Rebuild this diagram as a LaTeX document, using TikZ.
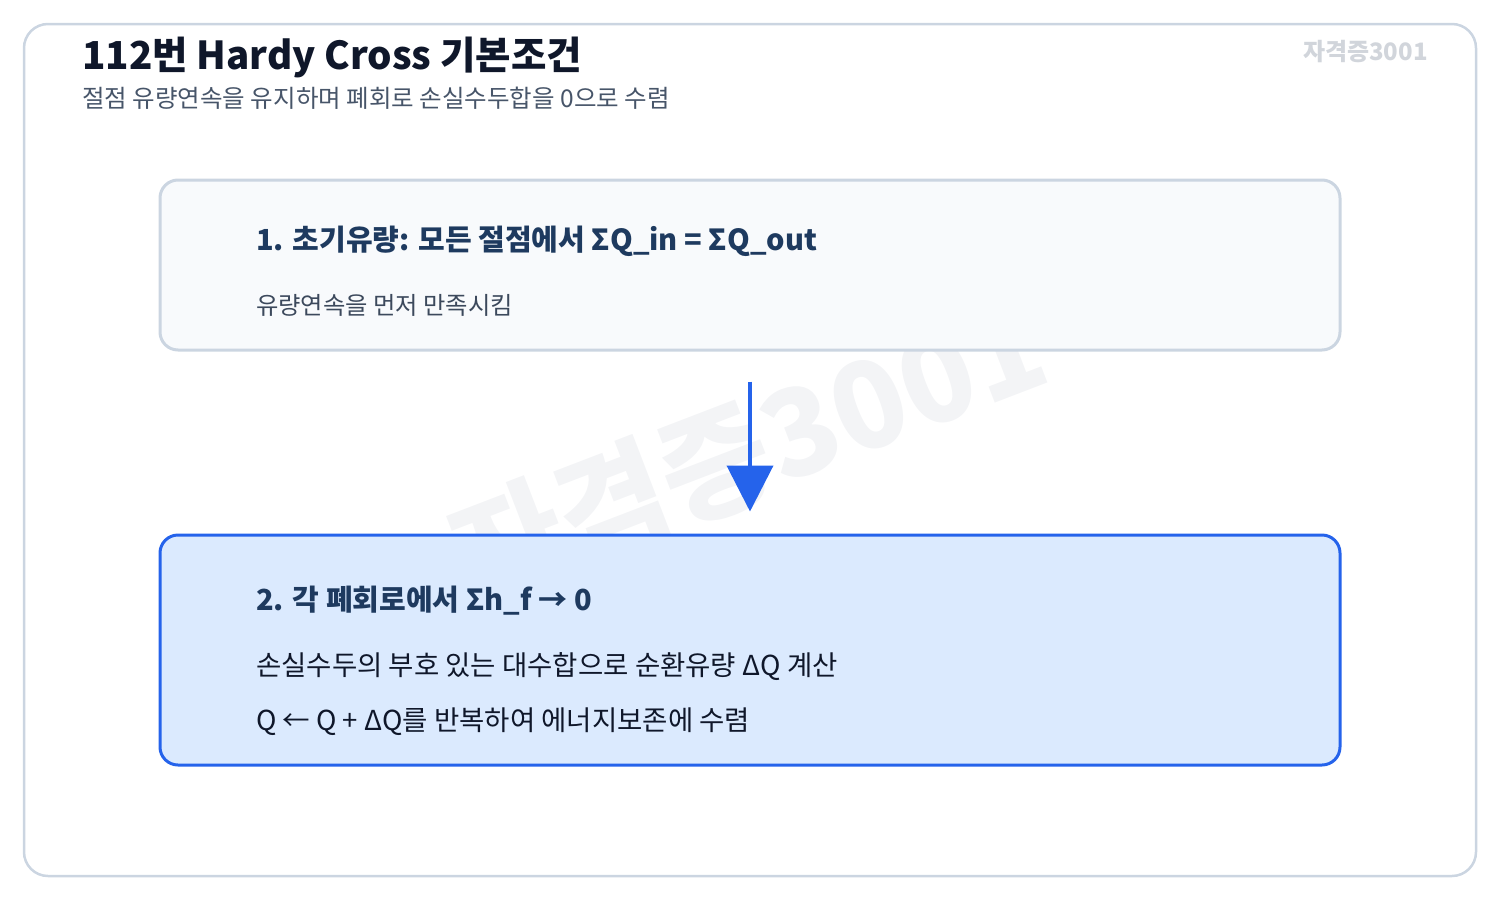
\documentclass[tikz,border=0pt]{standalone}
\usepackage{fontspec}
\setmainfont{Noto Sans CJK KR}
\usetikzlibrary{arrows.meta}
\definecolor{framegray}{HTML}{CBD5E1}
\definecolor{softfill}{HTML}{F8FAFC}
\definecolor{bluefill}{HTML}{DBEAFE}
\definecolor{blueline}{HTML}{2563EB}
\definecolor{inkdark}{HTML}{0F172A}
\definecolor{inkgray}{HTML}{475569}
\definecolor{navy}{HTML}{1E3A5F}
\definecolor{markgray}{HTML}{D1D5DB}
\definecolor{markpale}{HTML}{F3F4F6}
\begin{document}
\begin{tikzpicture}[x=1pt, y=-1pt,
    panel/.style ={draw=framegray, line width=3pt, fill=softfill,
      rounded corners=18pt, minimum width=1180pt, inner sep=0pt},
    panelhot/.style ={panel, draw=blueline, fill=bluefill},
    heading/.style ={anchor=base west, inner sep=0pt, font=\bfseries\fontsize{29}{33}\selectfont, text=navy},
    bodytext/.style ={anchor=base west, inner sep=0pt, font=\fontsize{27.5}{31}\selectfont, text=inkdark},
    flow/.style ={draw=blueline, line width=4pt, -{Triangle[width=46pt,length=46pt]}}]
   \useasboundingbox (0,0) rectangle (1500,900);
   \draw[framegray, line width=2.5pt, rounded corners=24pt] (24,24) rectangle (1476,876);

   % watermark
   \node[text=markpale, font=\bfseries\fontsize{120}{124}\selectfont, rotate=21] (mark) at (748,450) {자격증3001};
   \node[anchor=base east, inner sep=0pt, text=markgray, font=\bfseries\fontsize{24}{28}\selectfont] (tag) at (1428,60) {자격증3001};

   % title
   \node[anchor=base west, inner sep=0pt, text=inkdark, font=\bfseries\fontsize{38.5}{44}\selectfont] (title) at (82,69) {112번 Hardy Cross 기본조건};
   \node[anchor=base west, inner sep=0pt, text=inkgray, font=\fontsize{24.5}{28}\selectfont] (subtitle) at (82,107) {절점 유량연속을 유지하며 폐회로 손실수두합을 0으로 수렴};

   % steps
   \node[panel, minimum height=170pt] (step1) at (750,265) {};
   \node[panelhot, minimum height=230pt] (step2) at (750,650) {};

   \node[heading] (h1) at (256,250) {1. 초기유량: 모든 절점에서 ΣQ\_in = ΣQ\_out};
   \node[bodytext, text=inkgray!80!inkdark, font=\fontsize{24.3}{28}\selectfont] (t1) at (256,314) {유량연속을 먼저 만족시킴};

   \node[heading] (h2) at (256,610) {2. 각 폐회로에서 Σh\_f → 0};
   \node[bodytext] (t2a) at (256,675) {손실수두의 부호 있는 대수합으로 순환유량 ΔQ 계산};
   \node[bodytext] (t2b) at (256,730) {Q ← Q + ΔQ를 반복하여 에너지보존에 수렴};

   \draw[flow, shorten <=30pt, shorten >=22pt] (step1.south) to (step2.north);
 \end{tikzpicture}
\end{document}
